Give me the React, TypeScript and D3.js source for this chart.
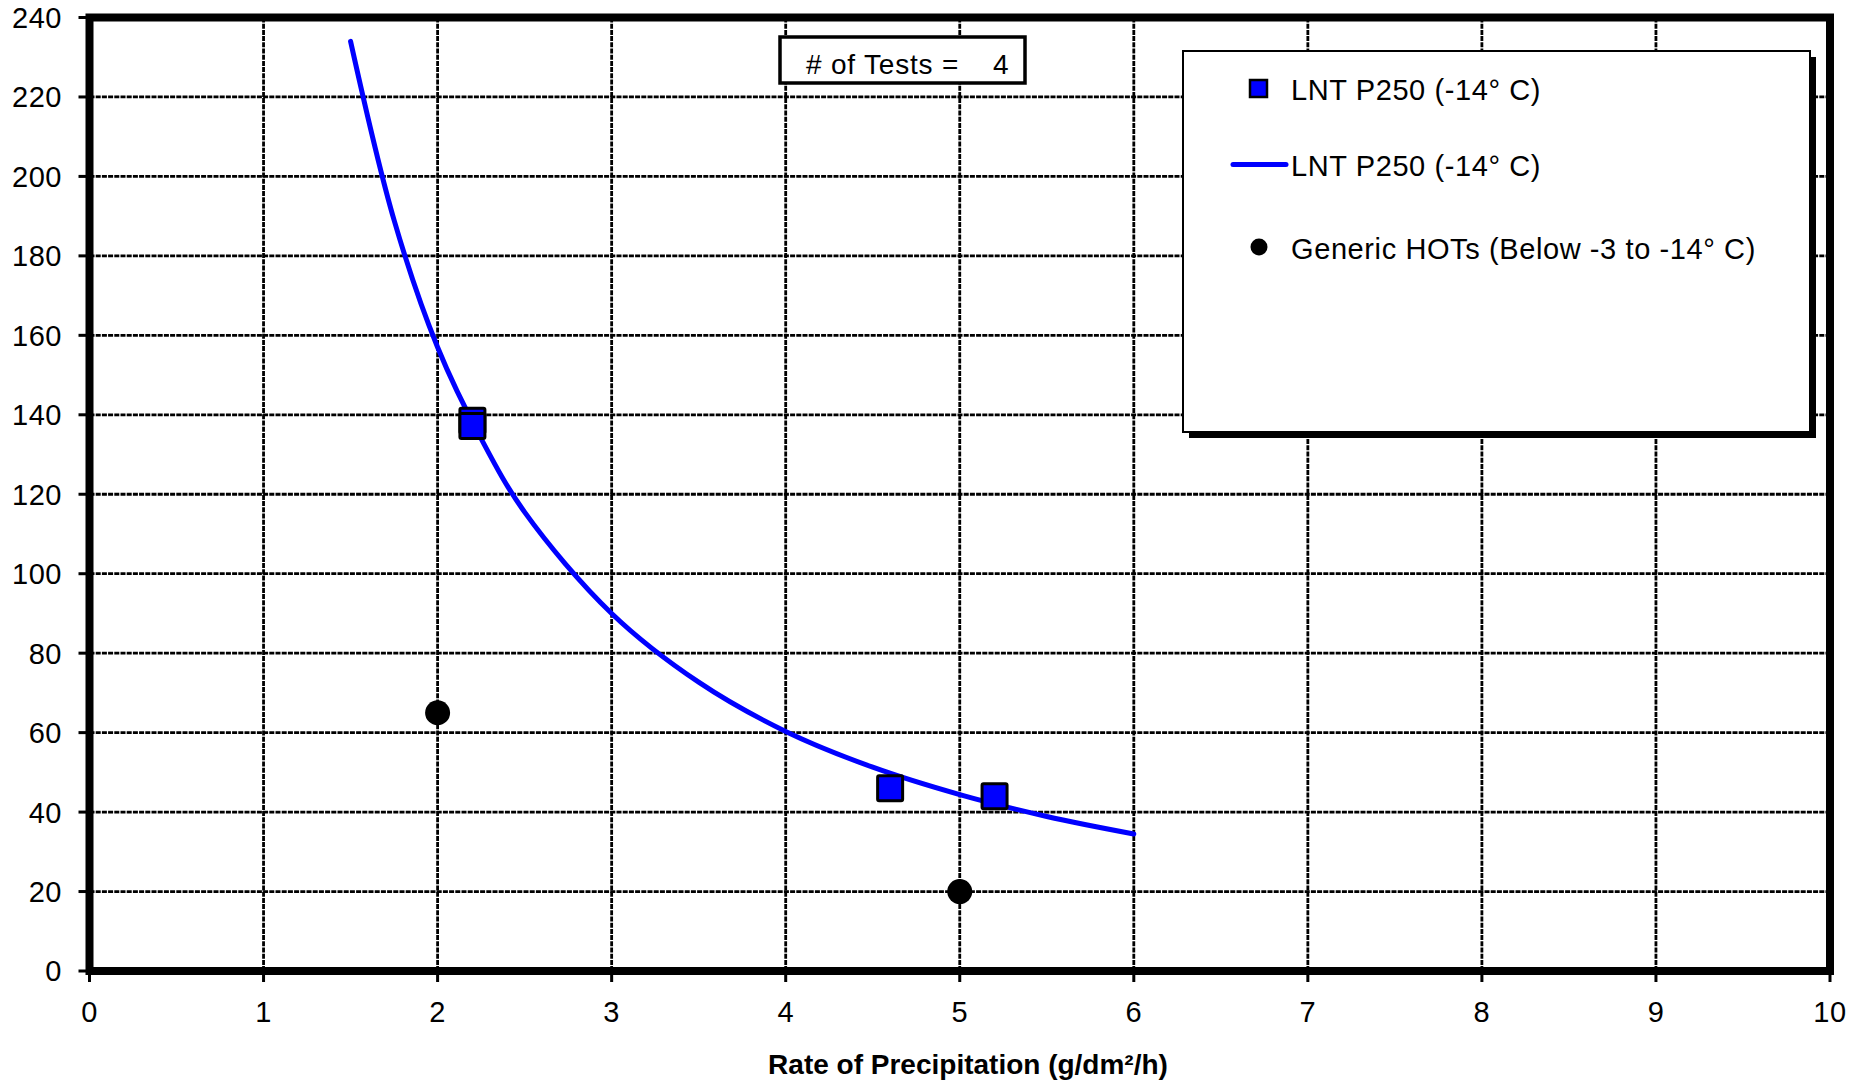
import React from "react";
import * as d3 from "d3";

const xTicks = [0, 1, 2, 3, 4, 5, 6, 7, 8, 9, 10];
const yTicks = [0, 20, 40, 60, 80, 100, 120, 140, 160, 180, 200, 220, 240];

// LNT P250 (-14° C) measured points
const lntX = [2.2, 2.2, 4.6, 5.2];
const lntY = [138.5, 137.2, 46, 44];

// Trend curve
const trendX = [1.5, 1.75, 2, 2.25, 2.5, 3, 3.5, 4, 4.5, 5, 5.5, 6];
const trendY = [234, 189, 157, 134, 115.5, 90, 72.7, 60.3, 51.3, 44.4, 38.9, 34.5];

// Generic HOTs
const hotX = [2, 5];
const hotY = [65, 20];

const legendLabels = [
  "LNT P250 (-14\u00B0 C)",
  "LNT P250 (-14\u00B0 C)",
  "Generic HOTs (Below -3 to -14\u00B0 C)",
];

const W = 1852;
const H = 1081;
const left = 89.5;
const right = 1830;
const top = 17.5;
const bottom = 971;
const FONT = "'Liberation Sans', Arial, sans-serif";

export default function App() {
  const x = d3.scaleLinear().domain([0, 10]).range([left, right]);
  const y = d3.scaleLinear().domain([0, 240]).range([bottom, top]);
  const line = d3
    .line<number>()
    .x((_, i) => x(trendX[i]))
    .y((d) => y(d))
    .curve(d3.curveCatmullRom.alpha(0.5));

  const sq = 25;
  const lx = 1183;
  const ly = 51;
  const lw = 627;
  const lh = 381;

  return (
    <svg
      width={W}
      height={H}
      style={{ position: "absolute", left: 0, top: 0, background: "#fff" }}
      fontFamily={FONT}
    >
      <rect x={0} y={0} width={W} height={H} fill="#fff" />
      {/* grid */}
      {yTicks.slice(1, -1).map((t) => (
        <line
          key={"gy" + t}
          x1={left}
          x2={right}
          y1={y(t)}
          y2={y(t)}
          stroke="#000"
          strokeWidth={2.8}
          strokeDasharray="5,1.2"
        />
      ))}
      {xTicks.slice(1, -1).map((t) => (
        <line
          key={"gx" + t}
          x1={x(t)}
          x2={x(t)}
          y1={top}
          y2={bottom}
          stroke="#000"
          strokeWidth={2.8}
          strokeDasharray="5,1.2"
        />
      ))}
      {/* ticks */}
      {yTicks.map((t) => (
        <line key={"ty" + t} x1={left - 11} x2={left} y1={y(t)} y2={y(t)} stroke="#000" strokeWidth={3} />
      ))}
      {xTicks.map((t) => (
        <line key={"tx" + t} x1={x(t)} x2={x(t)} y1={bottom} y2={bottom + 11} stroke="#000" strokeWidth={3} />
      ))}
      {/* frame */}
      <rect
        x={left}
        y={top}
        width={right - left}
        height={bottom - top}
        fill="none"
        stroke="#000"
        strokeWidth={8}
      />
      {/* tick labels */}
      {yTicks.map((t) => (
        <text key={"ly" + t} x={62} y={y(t)} dy="0.36em" textAnchor="end" fontSize={29} letterSpacing={0.5} fill="#000">
          {t}
        </text>
      ))}
      {xTicks.map((t) => (
        <text key={"lx" + t} x={x(t)} y={1012} dy="0.36em" textAnchor="middle" fontSize={29} letterSpacing={0.5} fill="#000">
          {t}
        </text>
      ))}
      <text x={968} y={1064} dy="0.36em" textAnchor="middle" fontSize={28} fontWeight="bold" fill="#000">
        Rate of Precipitation (g/dm²/h)
      </text>
      {/* curve */}
      <path d={line(trendY) || ""} fill="none" stroke="#0000ff" strokeWidth={5} strokeLinecap="round" />
      {/* squares */}
      {lntX.map((v, i) => (
        <rect
          key={"sq" + i}
          x={x(v) - sq / 2}
          y={y(lntY[i]) - sq / 2}
          width={sq}
          height={sq}
          fill="#0000ff"
          stroke="#000"
          strokeWidth={3}
          rx={1.5}
        />
      ))}
      {/* circles */}
      {hotX.map((v, i) => (
        <circle key={"c" + i} cx={x(v)} cy={y(hotY[i])} r={12.5} fill="#000" />
      ))}
      {/* tests box */}
      <rect x={780} y={37} width={245} height={46} fill="#fff" stroke="#000" strokeWidth={3.5} />
      <text x={806} y={74} fontSize={28} letterSpacing={0.8} fill="#000">
        # of Tests =
      </text>
      <text x={993} y={74} fontSize={28} fill="#000">
        4
      </text>
      {/* legend */}
      <rect x={lx + 6} y={ly + 6} width={lw} height={lh} fill="#000" />
      <rect x={lx} y={ly} width={lw} height={lh} fill="#fff" stroke="#000" strokeWidth={2} />
      <rect x={1250} y={80} width={17} height={17} fill="#0000ff" stroke="#000" strokeWidth={2.5} />
      <line x1={1233} x2={1286} y1={164.5} y2={164.5} stroke="#0000ff" strokeWidth={5} strokeLinecap="round" />
      <circle cx={1259} cy={247} r={8.5} fill="#000" />
      {legendLabels.map((l, i) => (
        <text key={"lg" + i} x={1291} y={[90, 166, 249][i]} dy="0.36em" fontSize={29} letterSpacing={0.6} fill="#000" style={{ whiteSpace: "pre" }}>
          {l}
        </text>
      ))}
    </svg>
  );
}
